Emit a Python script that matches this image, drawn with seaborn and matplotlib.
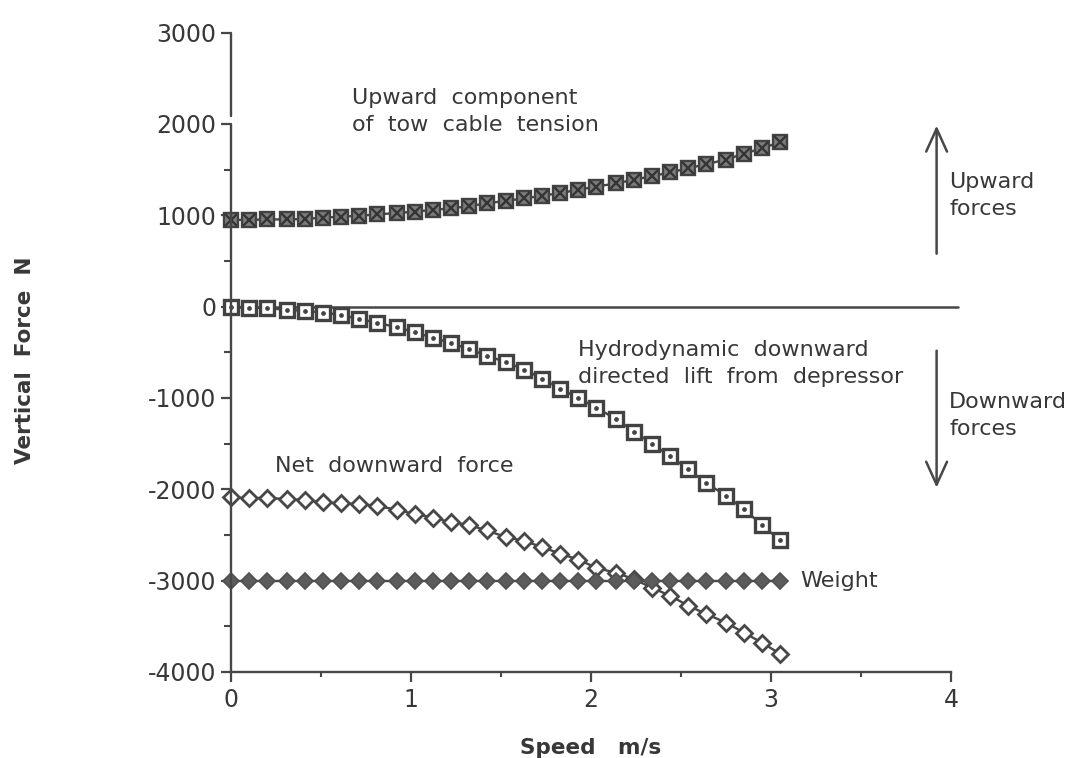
import matplotlib
matplotlib.use("Agg")
import matplotlib.pyplot as plt
import seaborn as sns
import pandas as pd

# Towing speed (m/s) at which each force was evaluated
speed = [0.00, 0.10, 0.20, 0.31, 0.41, 0.51, 0.61, 0.71, 0.81, 0.92,
         1.02, 1.12, 1.22, 1.32, 1.42, 1.53, 1.63, 1.73, 1.83, 1.93,
         2.03, 2.14, 2.24, 2.34, 2.44, 2.54, 2.64, 2.75, 2.85, 2.95, 3.05]

# Vertical force components (N)
cable_up = [950, 950, 955, 955, 960, 975, 985, 995, 1010, 1025,
            1040, 1060, 1075, 1100, 1130, 1160, 1185, 1215, 1245, 1280,
            1315, 1350, 1390, 1430, 1470, 1515, 1560, 1610, 1675, 1735, 1800]
depressor_lift = [0, -10, -15, -35, -45, -65, -90, -135, -175, -225,
                  -280, -340, -395, -465, -535, -610, -690, -790, -900, -1000,
                  -1110, -1230, -1370, -1500, -1640, -1780, -1930, -2070, -2220, -2390, -2560]
net_down = [-2085, -2100, -2090, -2110, -2115, -2140, -2155, -2160, -2180, -2225,
            -2270, -2310, -2360, -2390, -2450, -2525, -2565, -2635, -2705, -2770,
            -2860, -2915, -2985, -3080, -3165, -3275, -3365, -3460, -3570, -3680, -3800]
weight = [-3000] * 31

y_major = [-4000, -3000, -2000, -1000, 0, 1000, 2000, 3000]
y_minor = [-3500, -2500, -1500, -500, 500, 1500]
x_major = [0, 1, 2, 3, 4]
x_minor = [0.5, 1.5, 2.5, 3.5]

df = pd.DataFrame({"speed": speed, "cable": cable_up, "lift": depressor_lift,
                   "net": net_down, "weight": weight})

sns.set_theme(style="white")
plt.rcParams["font.family"] = ["DejaVu Sans"]
plt.rcParams["axes.unicode_minus"] = False

INK = "#383838"
LINE = "#474747"

fig = plt.figure(figsize=(10.73, 7.58), dpi=100)
fig.patch.set_facecolor("white")
ax = fig.add_axes([0.2153, 0.1135, 0.671, 0.8434])
ax.set_facecolor("white")

common = dict(color=LINE, linewidth=1.7, clip_on=False, ax=ax, legend=False)
nolines = {k: v for k, v in common.items() if k != "linewidth"}

# Upward component of tow cable tension: boxed cross markers
sns.lineplot(data=df, x="speed", y="cable", marker="s", markersize=9.5,
             markerfacecolor="#7c7c7c", markeredgecolor="#424242",
             markeredgewidth=1.7, zorder=4, **common)
sns.lineplot(data=df, x="speed", y="cable", marker="x", markersize=8,
             markeredgecolor="#353535", markeredgewidth=1.7, linestyle="",
             zorder=5, **nolines)

# Hydrodynamic lift from the depressor: open squares with a centre dot
sns.lineplot(data=df, x="speed", y="lift", marker="s", markersize=10,
             markerfacecolor="white", markeredgecolor="#424242",
             markeredgewidth=2.4, zorder=4, **common)
sns.lineplot(data=df, x="speed", y="lift", marker="o", markersize=2.8,
             markerfacecolor="#424242", markeredgecolor="#424242",
             markeredgewidth=0.5, linestyle="", zorder=5, **nolines)

# Net downward force: open diamonds
sns.lineplot(data=df, x="speed", y="net", marker="D", markersize=8,
             markerfacecolor="white", markeredgecolor="#474747",
             markeredgewidth=2.0, zorder=4, **common)

# Weight: filled diamonds
sns.lineplot(data=df, x="speed", y="weight", marker="D", markersize=8.5,
             markerfacecolor="#5c5c5c", markeredgecolor="#505050",
             markeredgewidth=1.2, zorder=4, **common)

# Zero-force reference line running slightly past the last speed tick
ax.axhline(0, xmin=0, xmax=1.01, color=LINE, linewidth=1.8, clip_on=False, zorder=3)

ax.set_xlim(0, 4)
ax.set_ylim(-4000, 3000)
ax.set_xlabel("")
ax.set_ylabel("")

for side in ("top", "right", "left"):
    ax.spines[side].set_visible(False)
ax.spines["bottom"].set_color(LINE)
ax.spines["bottom"].set_linewidth(1.7)

# Vertical axis drawn in two pieces, with a short break above 2000
ax.plot([0, 0], [-4000, 2000], color=LINE, linewidth=1.7, clip_on=False, zorder=6)
ax.plot([0, 0], [2090, 3000], color=LINE, linewidth=1.7, clip_on=False, zorder=6)

ax.set_yticks(y_major)
ax.set_yticklabels([str(v) for v in y_major])
ax.set_yticks(y_minor, minor=True)
ax.set_xticks(x_major)
ax.set_xticklabels([str(v) for v in x_major])
ax.set_xticks(x_minor, minor=True)

ax.tick_params(axis="both", which="major", direction="out", length=7.5, width=1.6,
               color=LINE, labelsize=17, labelcolor=INK, pad=3,
               left=True, bottom=True)
ax.tick_params(axis="both", which="minor", direction="out", length=5, width=1.5,
               color=LINE, left=True, bottom=True)
ax.tick_params(axis="x", which="minor", length=3.5)
ax.tick_params(axis="x", which="major", pad=4)

txt = dict(fontsize=16, color=INK, ha="left", va="center")
ax.text(0.672, 2140, "Upward  component\nof  tow  cable  tension", linespacing=1.45, **txt)
ax.text(1.928, -622, "Hydrodynamic  downward\ndirected  lift  from  depressor", linespacing=1.45, **txt)
ax.text(0.244, -1744, "Net  downward  force", **txt)
ax.text(3.161, -3003, "Weight", **txt)
ax.text(3.989, 1218, "Upward\nforces", linespacing=1.45, clip_on=False, **txt)
ax.text(3.989, -1192, "Downward\nforces", linespacing=1.45, clip_on=False, **txt)

arrow = dict(arrowstyle="->,head_length=1.1,head_width=0.5", color=LINE,
             linewidth=1.8, shrinkA=0, shrinkB=0, mutation_scale=15)
ax.annotate("", xy=(3.92, 1982), xytext=(3.92, 580), arrowprops=arrow)
ax.annotate("", xy=(3.92, -1982), xytext=(3.92, -482), arrowprops=arrow)

fig.text(25 / 1073, 1 - 360 / 758, "Vertical  Force  N", rotation=90,
         ha="center", va="center", fontsize=15.5, fontweight="bold", color=INK)
fig.text(591 / 1073, 1 - 748 / 758, "Speed   m/s", ha="center", va="center",
         fontsize=15.5, fontweight="bold", color=INK)

fig.savefig("out.png", dpi=100, facecolor="white")
